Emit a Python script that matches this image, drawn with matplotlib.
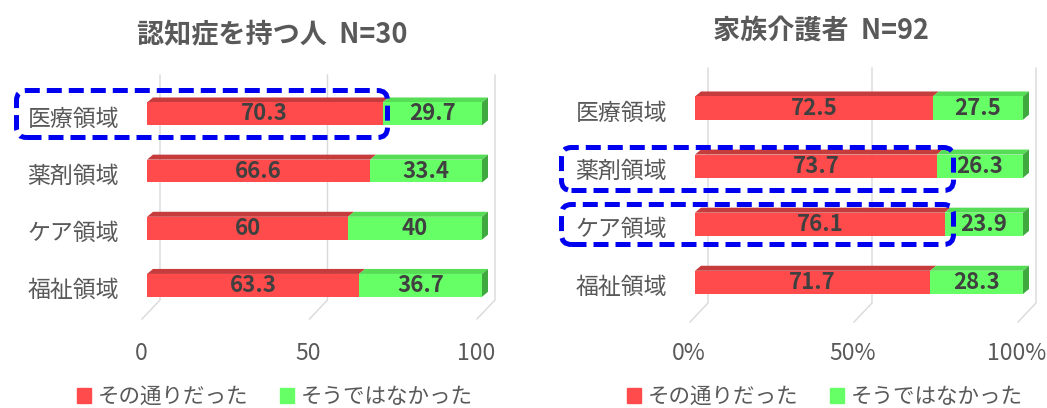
import matplotlib
matplotlib.use("Agg")
import matplotlib.pyplot as plt
from matplotlib import transforms
from matplotlib.patches import Polygon, FancyBboxPatch, Patch

plt.rcParams['font.family'] = ['Noto Sans CJK JP', 'DejaVu Sans']

categories = ['医療領域', '薬剤領域', 'ケア領域', '福祉領域']
series_names = ['その通りだった', 'そうではなかった']

# 認知症を持つ人 (N=30)
patient_yes = [70.3, 66.6, 60, 63.3]
patient_no = [29.7, 33.4, 40, 36.7]
# 家族介護者 (N=92)
family_yes = [72.5, 73.7, 76.1, 71.7]
family_no = [27.5, 26.3, 23.9, 28.3]

ticks = [0, 50, 100]
patient_ticklabels = ['0', '50', '100']
family_ticklabels = ['0%', '50%', '100%']

W, H = 1047, 408
TEXT = '#595959'
VALUE = '#404040'
RED, RED_TOP = '#FF4B4B', '#C63C3C'
GREEN, GREEN_TOP, GREEN_SIDE = '#66FF66', '#55DD55', '#3FA83F'
GRID = '#D9D9D9'
BLUE = '#0000F0'
DX, DY = 6, 5          # depth of the 3-D bars, pixels
BAR_H = 0.4

fig = plt.figure(figsize=(W / 100, H / 100), dpi=100)
ident = transforms.IdentityTransform()


def rect_px(left, top, right, bottom):
    return [left / W, 1 - bottom / H, (right - left) / W, (bottom - top) / H]


def shift(ax, dx, dy):
    return transforms.offset_copy(ax.transData, fig=fig, x=dx, y=dy, units='dots')


def panel(box, ylim, yes, no, ticklabels, tick_drop):
    ax = fig.add_axes(rect_px(*box))
    ax.set_xlim(0, 100)
    ax.set_ylim(*ylim)
    ax.axis('off')
    to_px = ax.transData.transform

    # back wall grid + floor
    for t in ticks:
        (xb, yb), (_, yt) = to_px((t, ylim[0])), to_px((t, ylim[1]))
        ax.plot([xb + 13, xb + 13, xb - 5], [yt, yb, yb - 19], color=GRID,
                lw=1, transform=ident, clip_on=False, zorder=1)

    rows = list(range(len(categories)))
    ax.barh(rows, yes, height=BAR_H, color=RED, zorder=3)
    ax.barh(rows, no, left=yes, height=BAR_H, color=GREEN, zorder=3)

    for r, a, b in zip(rows, yes, no):
        x0, yb = to_px((0, r + BAR_H / 2))
        x1, yt = to_px((a, r - BAR_H / 2))
        x2, _ = to_px((a + b, r))
        for xa, xc, col in [(x0, x1, RED_TOP), (x1, x2, GREEN_TOP)]:
            ax.add_patch(Polygon([(xa, yt), (xc, yt), (xc + DX, yt + DY), (xa + DX, yt + DY)],
                                 closed=True, color=col, lw=0, transform=ident,
                                 clip_on=False, zorder=2))
        ax.add_patch(Polygon([(x2, yb), (x2 + DX, yb + DY), (x2 + DX, yt + DY), (x2, yt)],
                             closed=True, color=GREEN_SIDE, lw=0, transform=ident,
                             clip_on=False, zorder=2))
        ax.text(a / 2, r, f'{a:g}', ha='center', va='center', fontsize=16,
                fontweight='bold', color=VALUE, zorder=4)
        ax.text(a + b / 2, r, f'{b:g}', ha='center', va='center', fontsize=16,
                fontweight='bold', color=VALUE, zorder=4)
        ax.text(0, r, categories[r], ha='right', va='center', fontsize=16.5,
                color=TEXT, transform=shift(ax, -28, -5))

    for t, lbl in zip(ticks, ticklabels):
        ax.text(t, ylim[0], lbl, ha='center', va='center', fontsize=16.5,
                color=TEXT, transform=shift(ax, -6, -tick_drop))
    return ax


panel((147, 75, 482, 300), (3.256, -0.681), patient_yes, patient_no,
      patient_ticklabels, 53)
panel((695, 68, 1023, 303), (3.355, -0.690), family_yes, family_no,
      family_ticklabels, 50)

fig.text(272 / W, 1 - 35 / H, '認知症を持つ人  N=30', ha='center', va='center',
         fontsize=19.5, fontweight='bold', color=TEXT)
fig.text(821 / W, 1 - 31 / H, '家族介護者  N=92', ha='center', va='center',
         fontsize=19.5, fontweight='bold', color=TEXT)

handles = [Patch(color=RED), Patch(color=GREEN)]
for cx in (275, 825):
    fig.legend(handles, series_names, loc='center', ncol=2,
               bbox_to_anchor=(cx / W, 1 - 397 / H), frameon=False,
               fontsize=15.5, labelcolor=TEXT, handlelength=0.65,
               handleheight=0.65, handletextpad=0.3, columnspacing=1.5)

# highlight frames
for left, top, right, bottom in [(16.5, 90.5, 387.5, 137.5),
                                 (561.5, 147.5, 953.5, 190.5),
                                 (561.5, 204.5, 953.5, 244.5)]:
    fig.add_artist(FancyBboxPatch((left, H - bottom), right - left, bottom - top,
                                  boxstyle='round,pad=0,rounding_size=10',
                                  fill=False, ec=BLUE, lw=3.6,
                                  linestyle=(0, (3.0, 1.4)), transform=ident,
                                  zorder=10))

fig.savefig('out.png', dpi=100)
